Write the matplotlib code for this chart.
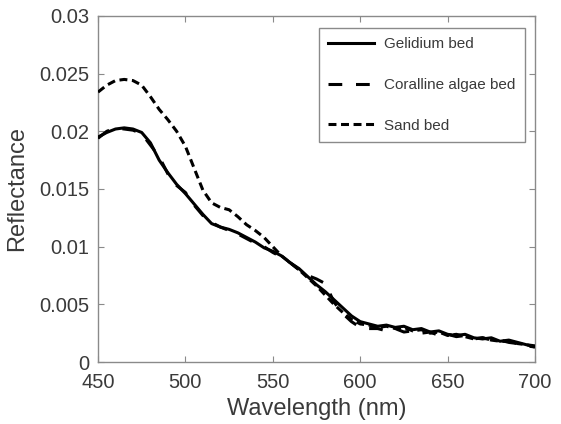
import matplotlib
matplotlib.use("Agg")
import matplotlib.pyplot as plt

plt.rcParams.update({
    'font.family': ['Liberation Sans', 'DejaVu Sans'],
    'xtick.direction': 'in',
    'ytick.direction': 'in',
    'xtick.top': True,
    'ytick.right': True,
})

wavelength = list(range(450, 701, 5))

gelidium = [
    0.0195, 0.0199, 0.0202, 0.0203, 0.0202, 0.0199, 0.0190, 0.0175, 0.0164, 0.0154,
    0.0146, 0.0137, 0.0128, 0.0120, 0.0117, 0.0115, 0.0112, 0.0108, 0.0104, 0.0099,
    0.0096, 0.0092, 0.0086, 0.0081, 0.0074, 0.0067, 0.0061, 0.0054, 0.0047, 0.0040,
    0.0035, 0.0033, 0.0031, 0.0032, 0.0030, 0.0031, 0.0028, 0.0029, 0.0026, 0.0027,
    0.0024, 0.0023, 0.0024, 0.0021, 0.0020, 0.0021, 0.0018, 0.0019, 0.0017, 0.0015,
    0.0014,
]

coralline = [
    0.0194, 0.0200, 0.0203, 0.0202, 0.0201, 0.0198, 0.0188, 0.0178, 0.0163, 0.0153,
    0.0147, 0.0136, 0.0127, 0.0121, 0.0117, 0.0114, 0.0111, 0.0107, 0.0103, 0.0100,
    0.0095, 0.0091, 0.0086, 0.0080, 0.0075, 0.0072, 0.0068, 0.0052, 0.0042, 0.0035,
    0.0030, 0.0029, 0.0029, 0.0027, 0.0029, 0.0026, 0.0027, 0.0025, 0.0026, 0.0023,
    0.0024, 0.0022, 0.0023, 0.0020, 0.0021, 0.0019, 0.0019, 0.0017, 0.0016, 0.0014,
    0.0013,
]

sand = [
    0.0234, 0.0240, 0.0244, 0.0245, 0.0244, 0.0240, 0.0230, 0.0219, 0.0210, 0.0200,
    0.0187, 0.0168, 0.0149, 0.0138, 0.0134, 0.0132, 0.0126, 0.0119, 0.0114, 0.0108,
    0.0100, 0.0092, 0.0086, 0.0080, 0.0073, 0.0066, 0.0058, 0.0050, 0.0043, 0.0037,
    0.0033, 0.0032, 0.0030, 0.0031, 0.0029, 0.0030, 0.0027, 0.0028, 0.0025, 0.0026,
    0.0023, 0.0024, 0.0022, 0.0020, 0.0021, 0.0019, 0.0018, 0.0018, 0.0016, 0.0015,
    0.0013,
]

labels = ['Gelidium bed', 'Coralline algae bed', 'Sand bed']
xticks = [450, 500, 550, 600, 650, 700]
yticks = [0, 0.005, 0.01, 0.015, 0.02, 0.025, 0.03]
ytick_labels = ['0', '0.005', '0.01', '0.015', '0.02', '0.025', '0.03']

fig = plt.figure(figsize=(5.61, 4.24), dpi=100)
ax = fig.add_axes([0.1747, 0.1462, 0.779, 0.8161])

lw = 2.2
ax.plot(wavelength, gelidium, color='black', lw=lw, label=labels[0], zorder=3)
ax.plot(wavelength, coralline, color='black', lw=lw, dashes=(4.5, 4.5), label=labels[1], zorder=3)
ax.plot(wavelength, sand, color='black', lw=lw, dashes=(2.6, 1.5), label=labels[2], zorder=3)

ax.set_xlim(450, 700)
ax.set_ylim(0, 0.03)
ax.set_xticks(xticks)
ax.set_yticks(yticks)
ax.set_yticklabels(ytick_labels)

for spine in ax.spines.values():
    spine.set_color('#8a8a8a')
    spine.set_linewidth(1.0)
ax.tick_params(colors='#8a8a8a', labelcolor='#3a3a3a', labelsize=14.5, length=4, width=0.8)
ax.tick_params(axis='x', pad=8)
ax.tick_params(axis='y', pad=6)

ax.set_xlabel('Wavelength (nm)', fontsize=17, color='#3a3a3a', labelpad=4)
ax.set_ylabel('Reflectance', fontsize=17, color='#3a3a3a', labelpad=8)

leg = ax.legend(loc='upper right', bbox_to_anchor=(0.977, 0.965), borderaxespad=0,
                frameon=True, fancybox=False, edgecolor='#8a8a8a', framealpha=1.0,
                handlelength=3.0, handletextpad=0.7, labelspacing=1.75, borderpad=0.6,
                prop={'size': 11})
leg.get_frame().set_linewidth(1.0)
for t in leg.get_texts():
    t.set_color('#3a3a3a')

fig.savefig('out.png', dpi=100)
